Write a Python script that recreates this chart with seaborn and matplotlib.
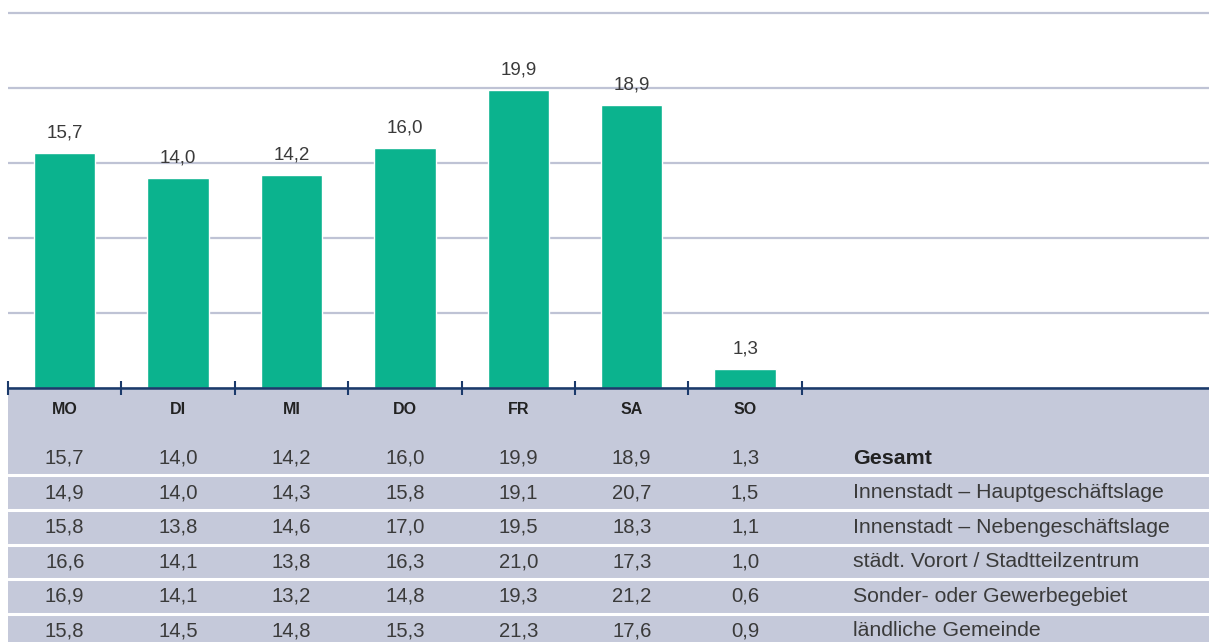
import matplotlib
matplotlib.use("Agg")
import matplotlib.pyplot as plt
import seaborn as sns
import pandas as pd

days = ["MO", "DI", "MI", "DO", "FR", "SA", "SO"]
gesamt = [15.7, 14.0, 14.2, 16.0, 19.9, 18.9, 1.3]
row_labels = ["Gesamt", "Innenstadt – Hauptgeschäftslage", "Innenstadt – Nebengeschäftslage",
              "städt. Vorort / Stadtteilzentrum", "Sonder- oder Gewerbegebiet", "ländliche Gemeinde"]
innen_haupt = [14.9, 14.0, 14.3, 15.8, 19.1, 20.7, 1.5]
innen_neben = [15.8, 13.8, 14.6, 17.0, 19.5, 18.3, 1.1]
vorort = [16.6, 14.1, 13.8, 16.3, 21.0, 17.3, 1.0]
gewerbe = [16.9, 14.1, 13.2, 14.8, 19.3, 21.2, 0.6]
laendlich = [15.8, 14.5, 14.8, 15.3, 21.3, 17.6, 0.9]
rows = [gesamt, innen_haupt, innen_neben, vorort, gewerbe, laendlich]

def fmt(v):
    return f"{v:.1f}".replace(".", ",")

sns.set_theme(style="white")
plt.rcParams["font.family"] = ["Liberation Sans", "DejaVu Sans"]

W, H = 1209, 642
fig = plt.figure(figsize=(W / 100, H / 100), dpi=100)
fig.patch.set_facecolor("white")

left_px, base_px = 8, 388
unit = 113.4  # px per category
xmax = (W - left_px) / unit - 0.5

# table area (drawn below the bar axes)
top_tab = 390
ax2 = fig.add_axes([left_px / W, 0, (W - left_px) / W, (H - top_tab) / H])
ax2.set_zorder(1)
ax2.set_facecolor("#c5c9da")
ax2.set_xlim(-0.5, xmax)
ax2.set_ylim(H, top_tab)
ax2.set_xticks([])
ax2.set_yticks([])
for s in ax2.spines.values():
    s.set_visible(False)

ax = fig.add_axes([left_px / W, (H - base_px) / H, (W - left_px) / W, base_px / H])
ax.set_zorder(2)
ax.patch.set_alpha(0)
df = pd.DataFrame({"day": days, "value": gesamt})
sns.barplot(data=df, x="day", y="value", color="#0bb38e", saturation=1, width=0.54, ax=ax, zorder=3)
ax.set_xlim(-0.5, xmax)
ax.set_ylim(0, base_px / 15.0)
ax.set_yticks([5, 10, 15, 20, 25])
ax.set_yticklabels([])
ax.tick_params(axis="y", length=0)
ax.grid(axis="y", color="#bfc3d5", linewidth=1.6, zorder=0)
ax.grid(axis="x", visible=False)
for s in ["top", "right", "left"]:
    ax.spines[s].set_visible(False)
ax.spines["bottom"].set_color("#1b3a6b")
ax.spines["bottom"].set_linewidth(1.9)
ax.spines["bottom"].set_zorder(5)
ax.set_xticks([i - 0.5 for i in range(len(days) + 1)])
ax.set_xticklabels([])
ax.tick_params(axis="x", direction="inout", length=9.5, width=1.5, color="#1b3a6b", bottom=True)
ax.set_xlabel("")
ax.set_ylabel("")
for i, v in enumerate(gesamt):
    ax.annotate(fmt(v), (i, v), xytext=(0, 8), textcoords="offset points",
                ha="center", va="bottom", fontsize=13.5, color="#3a3a3a")

for i, d in enumerate(days):
    ax2.text(i, 409, d, ha="center", va="center", fontsize=11.5,
             fontweight="bold", color="#222222")

label_x = (853 - left_px) / unit - 0.5
row0, step = 458, 34.6
for r, (lab, vals) in enumerate(zip(row_labels, rows)):
    y = row0 + step * r
    for i, v in enumerate(vals):
        ax2.text(i, y, fmt(v), ha="center", va="center", fontsize=14.6, color="#3a3a3a")
    ax2.text(label_x, y, lab, ha="left", va="center",
             fontsize=15.3 if r else 15.4,
             color="#222222" if r == 0 else "#3a3a3a",
             fontweight="bold" if r == 0 else "normal")
    if r < len(rows) - 1:
        ax2.axhline(y + step / 2, color="white", linewidth=2.2)

fig.savefig("out.png", dpi=100, facecolor="white")
